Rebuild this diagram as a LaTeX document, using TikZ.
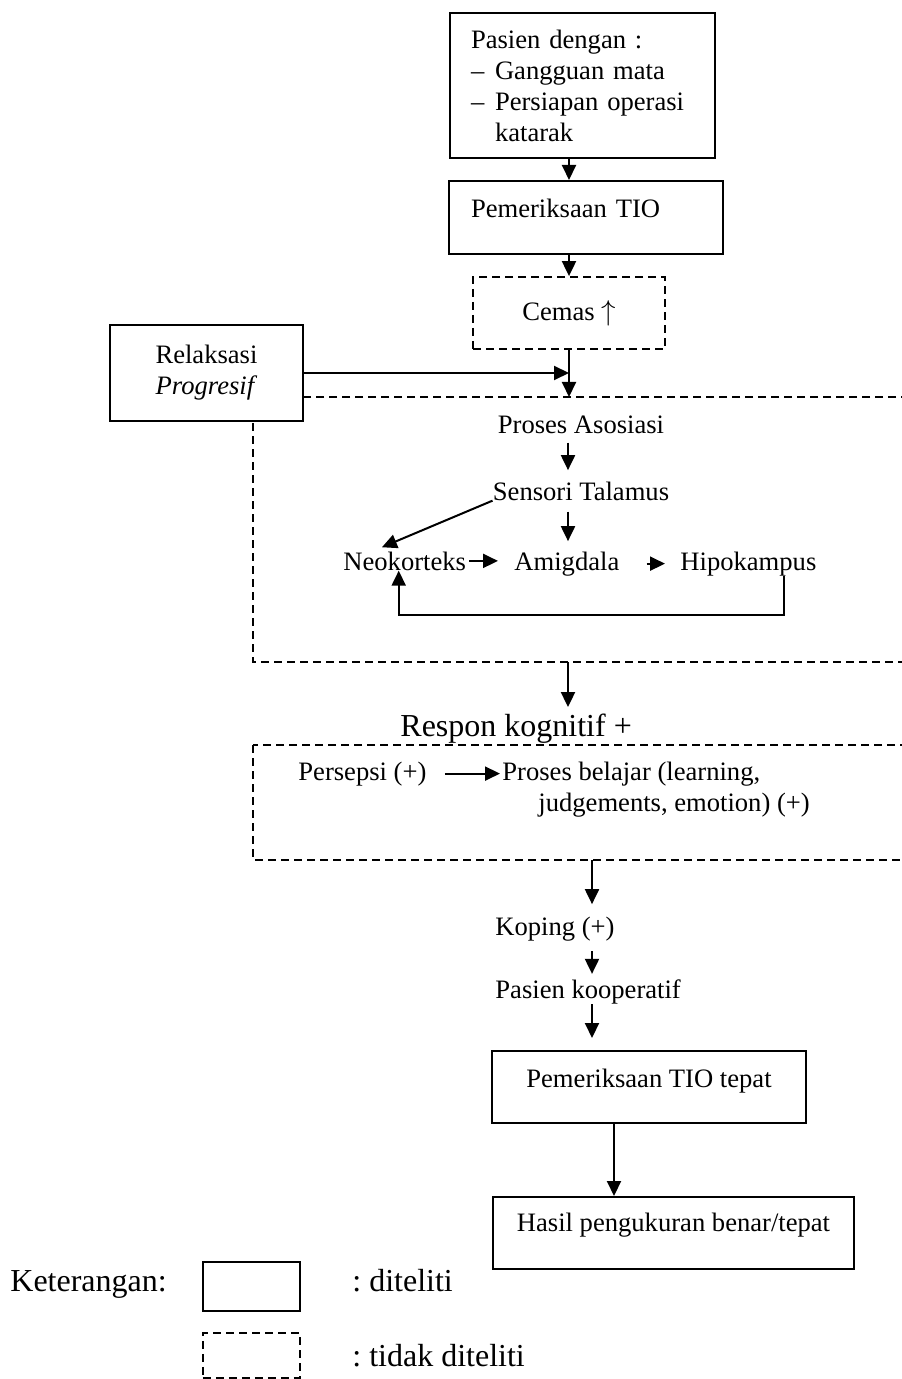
\documentclass[tikz,border=0pt]{standalone}
\usepackage{fontspec}
\setmainfont{Liberation Serif}
\usetikzlibrary{
    arrows.meta,
    positioning
}
\frenchspacing
\newcommand{\mainsize}{\fontsize{13.3}{15.5}\selectfont}
\newcommand{\bigsize}{\fontsize{16}{19}\selectfont}
\tikzset{
    box/.style={draw, line width=1pt, fill=white},
    dbox/.style={draw, line width=0.9pt, dash pattern=on 4pt off 2.5pt},
    lbl/.style={inner sep=0pt},
    arr/.style={-{Triangle[length=7.5pt,width=7pt]}, line width=1pt}
}

\begin{document}
\begin{tikzpicture}[x=0.5pt, y=-0.5pt, font=\mainsize]
    \useasboundingbox (0,0) rectangle (901,1379);
    % dashed frames, their right side runs off the page
    \draw[dbox] (253,397) rectangle (940,662);
    \draw[dbox] (253,745) rectangle (940,860);

    \node[box, anchor=north west, minimum height=72.5pt, text width=111.5pt, inner xsep=10.5pt, align=left] (pasien) at (449,12)
        {Pasien dengan :\\\makebox[12pt][l]{--}Gangguan mata\\\makebox[12pt][l]{--}Persiapan operasi\\\hspace*{12pt}katarak};
    \node[box, anchor=north west, text width=115pt, inner xsep=11pt, inner ysep=0pt, text height=18.5pt, text depth=18pt, align=left] (tio) at (448,180) {Pemeriksaan TIO};
    \node[dbox, minimum width=96pt, minimum height=36pt] (cemas) at (569,313) {Cemas $\uparrow$};
    \node[box, minimum width=96.5pt, minimum height=48pt, align=center] (relaks) at (206.5,373) {Relaksasi\\\textit{Progresif}};
    \coordinate (associn) at (569,397);
    \coordinate (assocout) at (568,662);
    \coordinate (percout) at (592,860);

    % inside the association frame
    \node[lbl, anchor=base] (proses) at (581,434) {Proses Asosiasi};
    \node[lbl, anchor=base] (sensori) at (581,500) {Sensori Talamus};
    \node[lbl, anchor=base west] (neo) at (343,570) {Neokorteks};
    \node[lbl, anchor=base west] (amig) at (514,570) {Amigdala};
    \node[lbl, anchor=base west] (hipo) at (680,570) {Hipokampus};

    \node[lbl, anchor=base west, font=\bigsize] (respon) at (400,736) {Respon kognitif +};
    \node[lbl, anchor=base west] (persepsi) at (298,780) {Persepsi (+)};
    \node[lbl, anchor=north west, align=left] (belajar) at (502,762) {Proses belajar (learning,\\\hspace*{18pt}judgements, emotion) (+)};

    \node[lbl, anchor=base west] (koping) at (495,935) {Koping (+)};
    \node[lbl, anchor=base west] (koop) at (495,998) {Pasien kooperatif};
    \node[box, anchor=north, minimum width=157pt, inner ysep=0pt, text height=18pt, text depth=18pt] (tepat) at (649,1050) {Pemeriksaan TIO tepat};
    \node[box, anchor=north, minimum width=180.5pt, inner ysep=0pt, text height=17pt, text depth=19pt] (hasil) at (673.5,1196) {Hasil pengukuran benar/tepat};

    % connectors
    \draw[arr] (pasien.south -| cemas) -- (tio.north -| cemas);
    \draw[arr] (tio.south -| cemas) -- (cemas.north);
    \draw[arr] (cemas.south) -- (associn);
    \draw[arr] (relaks.east) -- (relaks.east -| associn);
    \draw[arr, shorten <=4pt, shorten >=5.5pt] (proses.south -| assocout) -- (sensori.north -| assocout);
    \draw[arr, shorten <=5.5pt, shorten >=5pt] (sensori.south -| assocout) -- (amig.north -| assocout);
    \draw[arr, shorten >=5pt] (sensori.south west) -- ([xshift=-16pt]neo.north);
    \draw[arr, shorten <=1.5pt, shorten >=8pt] (neo.east) -- (neo.east -| amig.west);
    \draw[arr, shorten <=13.5pt, shorten >=7.5pt] (amig.east) -- (amig.east -| hipo.west);
    \draw[arr] ([xshift=18pt]hipo.south) -- ++(0,39) -| ([xshift=-3pt]neo.south);
    \draw[arr, shorten >=3pt] (assocout) -- (respon.north -| assocout);
    \draw[arr, shorten <=9pt, shorten >=1pt] (persepsi.east) -- (persepsi.east -| belajar.west);
    \draw[arr, shorten >=6pt] (percout) -- (koping.north -| percout);
    \draw[arr, shorten <=5pt, shorten >=2.5pt] (koping.south -| percout) -- (koop.north -| percout);
    \draw[arr, shorten >=6pt] (koop.south -| percout) -- (tepat.north -| percout);
    \draw[arr] ([xshift=-17.5pt]tepat.south) -- ([xshift=-17.5pt]tepat.south |- hasil.north);

    % legend
    \node[lbl, anchor=base west, font=\bigsize] (ket) at (10,1291) {Keterangan:};
    \node[box, anchor=north west, minimum width=48.5pt, minimum height=24.5pt] (legsolid) at (202,1261) {};
    \node[dbox, anchor=north west, minimum width=48.5pt, minimum height=22.5pt] (legdash) at (202,1332) {};
    \node[lbl, anchor=base west, font=\bigsize] (diteliti) at (352,1291) {: diteliti};
    \node[lbl, anchor=base west, font=\bigsize] (tidak) at (352,1366) {: tidak diteliti};
\end{tikzpicture}
\end{document}
